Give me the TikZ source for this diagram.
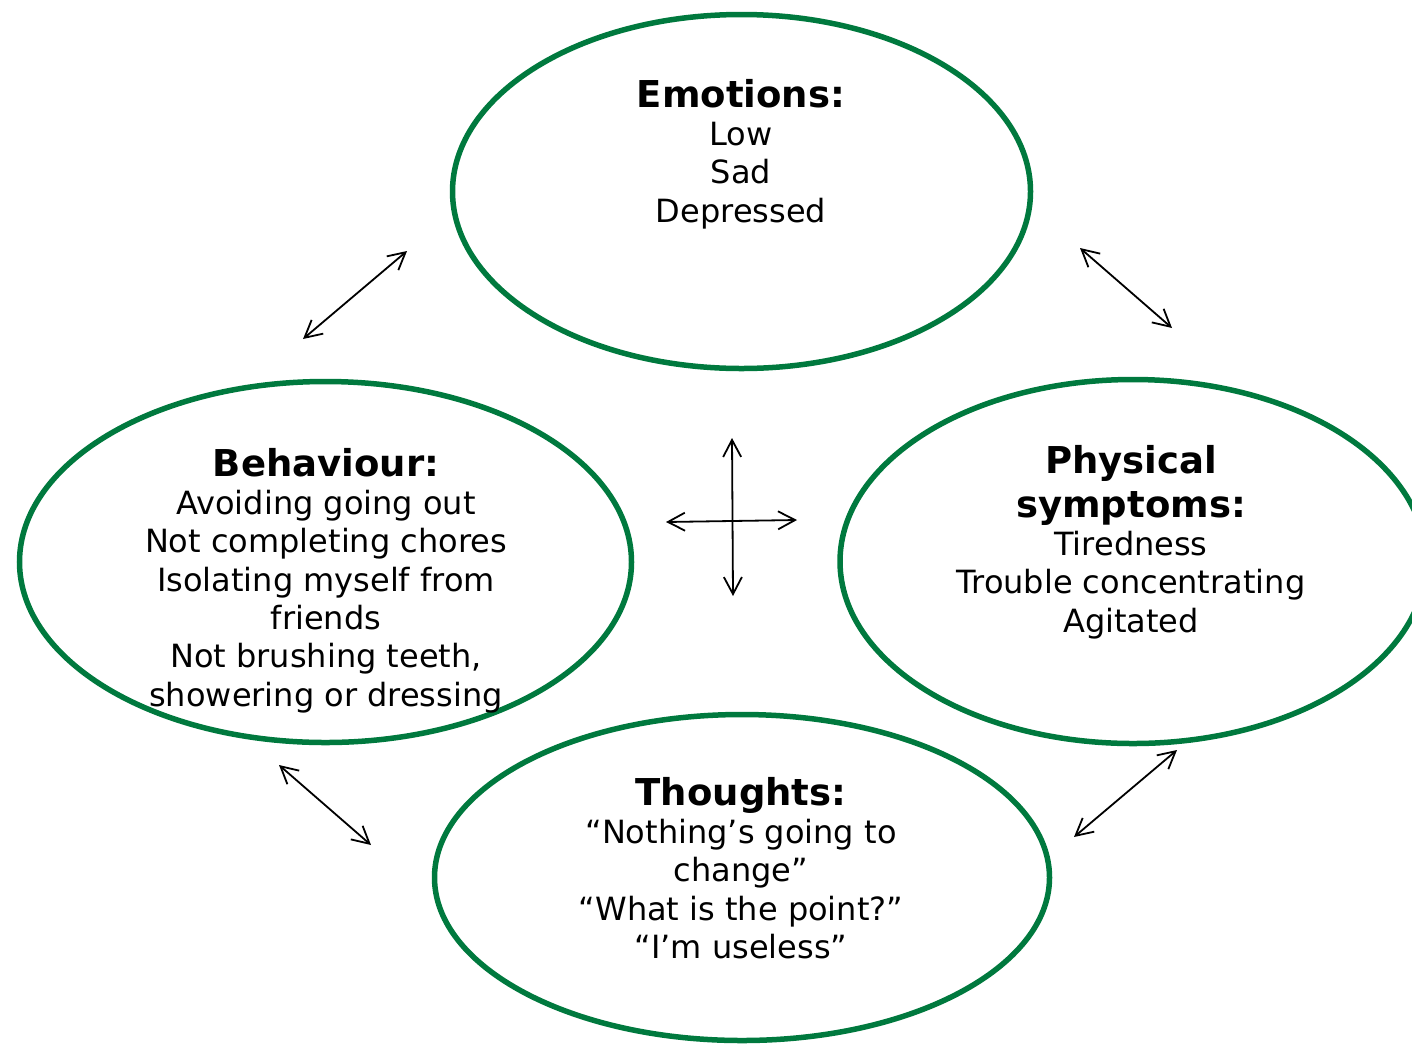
\documentclass[tikz,border=0pt]{standalone}
\usepackage{fontspec}
\setmainfont{DejaVu Sans}
\usetikzlibrary{shapes.geometric,arrows.meta}
\definecolor{ringgreen}{RGB}{0,121,62}
\tikzset{
  ring/.style={draw=ringgreen, line width=5.5pt, ellipse, inner sep=0pt, outer sep=0pt},
  body/.style={align=center, anchor=north, inner sep=0pt, font=\fontsize{32}{38.3}\selectfont},
  dbl/.style={line width=1.8pt, {Straight Barb[length=17pt,width=18pt]}-{Straight Barb[length=17pt,width=18pt]}},
}
\newcommand{\hd}[1]{{\bfseries\fontsize{37}{44}\selectfont #1}}
\begin{document}
\begin{tikzpicture}[x=1pt,y=-1pt]
\useasboundingbox (0,0) rectangle (1412,1045);
% ellipses
\node[ring, minimum width=578pt, minimum height=354pt] (emo) at (741.5,191.5) {};
\node[ring, minimum width=612pt, minimum height=361pt] (beh) at (325.5,562) {};
\node[ring, minimum width=586pt, minimum height=364pt] (phy) at (1133,561.5) {};
\node[ring, minimum width=615pt, minimum height=326pt] (tho) at (742,877.5) {};
% texts
\node[body] (emotxt) at (741,79) {\hd{Emotions:}\\Low\\Sad\\Depressed};
\node[body] (behtxt) at (326,448) {\hd{Behaviour:}\\Avoiding going out\\Not completing chores\\Isolating myself from\\friends\\Not brushing teeth,\\showering or dressing};
\node[body] (phytxt) at (1131,445) {\hd{Physical}\\[5.7pt]\hd{symptoms:}\\Tiredness\\Trouble concentrating\\Agitated};
\node[body] (thotxt) at (741,777) {\hd{Thoughts:}\\“Nothing’s going to\\change”\\“What is the point?”\\“I’m useless”};
% arrow end points
\coordinate (a1s) at (303,339); \coordinate (a1e) at (407,251);
\coordinate (a2s) at (1080,248); \coordinate (a2e) at (1172,328);
\coordinate (a3s) at (279,765); \coordinate (a3e) at (371,845);
\coordinate (a4s) at (1074,837); \coordinate (a4e) at (1177,750);
\coordinate (vs) at (732,438); \coordinate (ve) at (733,596);
\coordinate (hs) at (666,522); \coordinate (he) at (797,520);
\draw[dbl] (a1s) -- (a1e);
\draw[dbl] (a2s) -- (a2e);
\draw[dbl] (a3s) -- (a3e);
\draw[dbl] (a4s) -- (a4e);
\draw[dbl] (vs) -- (ve);
\draw[dbl] (hs) -- (he);
\end{tikzpicture}
\end{document}
